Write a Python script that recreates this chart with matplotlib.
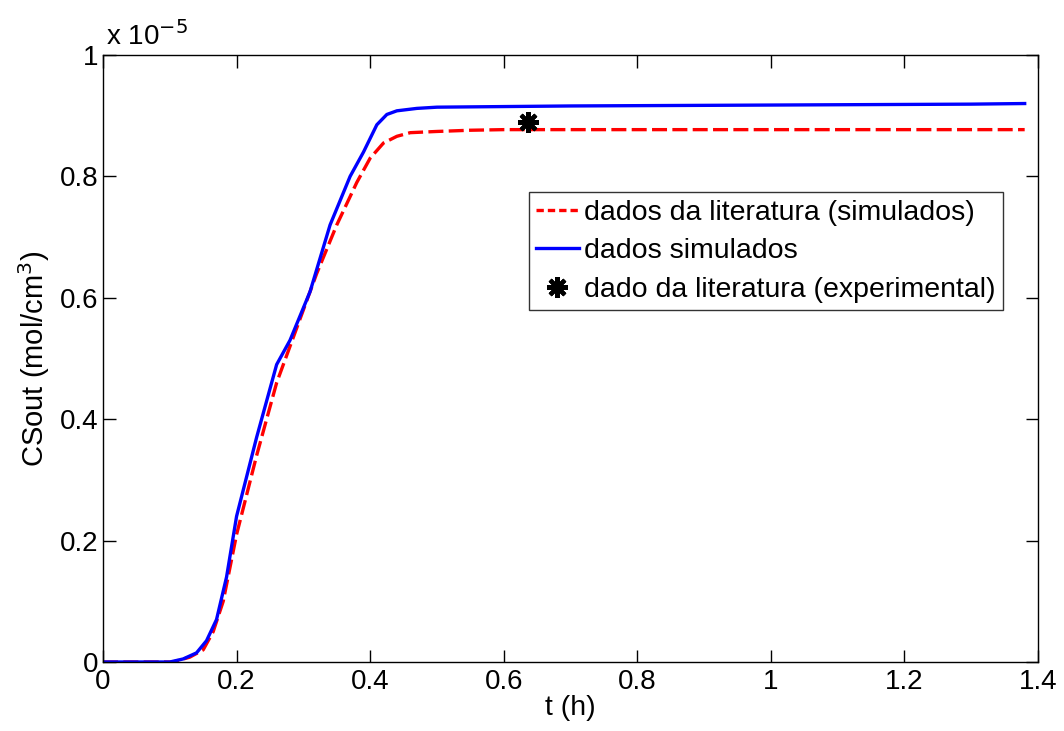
import matplotlib
matplotlib.use("Agg")
import matplotlib.pyplot as plt
from matplotlib.ticker import FormatStrFormatter

plt.rcParams['font.family'] = ['Liberation Sans', 'DejaVu Sans']

# concentracao em unidades de 1e-5 mol/cm3
t_lit = [0, 0.105, 0.13, 0.15, 0.165, 0.18, 0.20, 0.23, 0.26, 0.29, 0.32, 0.35,
         0.38, 0.40, 0.42, 0.44, 0.46, 0.50, 0.55, 0.60, 0.80, 1.00, 1.20, 1.38]
c_lit = [0, 0, 0.008, 0.02, 0.05, 0.10, 0.21, 0.34, 0.46, 0.55, 0.64, 0.72,
         0.79, 0.83, 0.855, 0.866, 0.872, 0.874, 0.876, 0.877, 0.877, 0.877, 0.877, 0.877]

t_sim = [0, 0.10, 0.12, 0.14, 0.155, 0.17, 0.185, 0.20, 0.23, 0.26, 0.28, 0.31,
         0.34, 0.37, 0.39, 0.41, 0.425, 0.44, 0.47, 0.50, 0.60, 0.70, 0.90, 1.10, 1.30, 1.38]
c_sim = [0, 0, 0.005, 0.015, 0.035, 0.07, 0.14, 0.24, 0.37, 0.49, 0.53, 0.61,
         0.72, 0.80, 0.84, 0.885, 0.902, 0.908, 0.912, 0.914, 0.915, 0.916, 0.917, 0.918, 0.919, 0.920]

t_exp = [0.636]
c_exp = [0.889]

fig = plt.figure(figsize=(10.64, 7.31), dpi=100)
ax = fig.add_axes([0.0968, 0.0944, 0.8788, 0.8304])

ax.plot(t_lit, c_lit, '--', color='red', lw=2.4, dashes=(4.5, 1.6), label='dados da literatura (simulados)')
ax.plot(t_sim, c_sim, '-', color='blue', lw=2.4, label='dados simulados')
ax.plot(t_exp, c_exp, linestyle='none', marker=(8, 2, 0), color='black', ms=15, mew=3,
        label='dado da literatura (experimental)')

ax.set_xlim(0, 1.4)
ax.set_ylim(0, 1)
ax.set_xticks([0, 0.2, 0.4, 0.6, 0.8, 1, 1.2, 1.4])
ax.set_yticks([0, 0.2, 0.4, 0.6, 0.8, 1])
ax.xaxis.set_major_formatter(FormatStrFormatter('%g'))
ax.yaxis.set_major_formatter(FormatStrFormatter('%g'))
ax.tick_params(direction='in', length=9, width=1, top=True, right=True, labelsize=20)
ax.tick_params(axis='x', pad=5)
ax.tick_params(axis='y', pad=3)
for s in ax.spines.values():
    s.set_linewidth(1)

ax.set_xlabel('t (h)', fontsize=20.5, labelpad=0)
ax.set_ylabel('CSout (mol/cm$^3$)', fontsize=21, labelpad=6)
ax.text(0.003, 1.006, r'x 10$^{-5}$', transform=ax.transAxes, fontsize=20, ha='left', va='bottom')

leg = ax.legend(loc='upper right', bbox_to_anchor=(0.9626, 0.7736), fontsize=20.5, frameon=True,
                fancybox=False, edgecolor='black', handlelength=1.5, handletextpad=0.2,
                borderpad=0.25, labelspacing=0.45, borderaxespad=0)
leg.get_frame().set_linewidth(1)
# tracos mais curtos na legenda, como no original
leg.get_lines()[0].set_dashes((2.2, 1.2))

fig.savefig('out.png', dpi=100)
